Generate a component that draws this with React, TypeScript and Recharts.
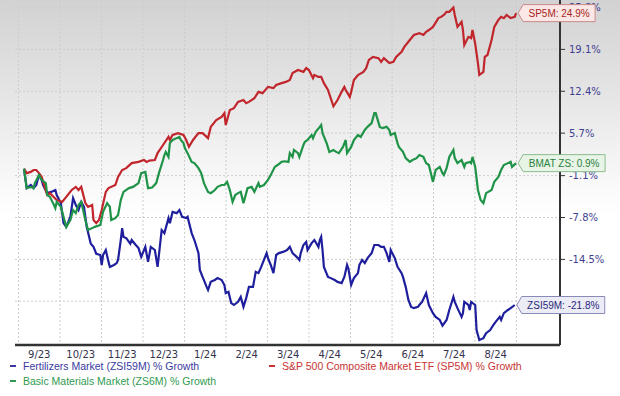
import { LineChart, Line, XAxis, YAxis, CartesianGrid } from 'recharts';

// x = days since 1 Sep 2023, y = % growth
const monthLabels = ['9/23', '10/23', '11/23', '12/23', '1/24', '2/24', '3/24', '4/24', '5/24', '6/24', '7/24', '8/24'];
const monthStartDays = [0, 30.4, 60.9, 91.3, 121.8, 152.2, 182.6, 213.1, 243.5, 274, 304.4, 334.8, 365.3];
const gridValues = [-21.2, -14.5, -7.8, -1.1, 5.7, 12.4, 19.1, 25.8];
// -21.2% sits under the ZSI59M tag in the original, so no label for it
const yTicks = [-14.5, -7.8, -1.1, 5.7, 12.4, 19.1, 25.8];

const fertilizers: [number, number][] = [
  [4, 0.0], [6, -3.1], [9, -2.6], [11, -3.1], [13, -2.6], [15, -1.0], [17, -1.8], [18, -2.6], [21, -3.9], [24, -3.7],
  [27, -3.4], [28, -4.2], [31, -5.5], [33, -8.7], [35, -9.3], [38, -7.7], [40, -4.7], [42, -5.8], [44, -6.6], [46, -5.3],
  [48, -6.1], [50, -9.3], [53, -12.0], [55, -12.5], [57, -13.6], [60, -13.8], [61, -15.4], [62, -13.8], [64, -13.0], [66, -14.9],
  [67, -15.7], [70, -15.4], [72, -15.1], [73, -14.6], [75, -11.4], [76, -9.5], [77, -10.9], [79, -11.1], [82, -12.0], [83, -11.4],
  [86, -12.2], [88, -12.7], [90, -14.1], [93, -12.5], [95, -14.9], [97, -12.5], [100, -13.0], [102, -15.7], [105, -9.8], [107, -10.3],
  [110, -7.9], [111, -8.7], [113, -6.9], [116, -7.1], [118, -6.6], [120, -7.7], [123, -7.9], [124, -7.7], [127, -10.3], [129, -11.4],
  [132, -13.5], [133, -16.2], [135, -17.3], [138, -18.9], [139, -19.4], [141, -18.1], [144, -17.8], [146, -17.5], [149, -17.8], [151, -18.6],
  [152, -19.9], [154, -19.7], [156, -21.5], [158, -21.8], [161, -21.3], [163, -20.5], [165, -22.1], [167, -20.7], [169, -18.9], [172, -18.9],
  [174, -16.5], [176, -16.7], [178, -15.7], [182, -13.5], [183, -14.3], [185, -15.4], [187, -16.7], [189, -13.8], [191, -13.5], [194, -13.3],
  [197, -13.0], [199, -12.5], [201, -13.5], [204, -14.1], [206, -14.6], [207, -13.5], [209, -12.2], [211, -11.7], [212, -13.0], [215, -11.9],
  [217, -11.4], [220, -12.5], [221, -11.4], [222, -10.9], [223, -13.0], [224, -15.7], [227, -17.3], [229, -17.5], [232, -17.8], [234, -18.1],
  [237, -18.3], [239, -17.3], [241, -15.4], [242, -16.0], [244, -18.6], [246, -17.5], [249, -16.7], [250, -15.4], [252, -14.6], [254, -15.1],
  [256, -14.3], [259, -13.5], [261, -12.2], [264, -12.2], [266, -12.5], [268, -12.5], [270, -13.5], [272, -14.9], [273, -13.0], [276, -14.3],
  [278, -15.7], [281, -16.7], [282, -17.3], [284, -18.9], [286, -21.0], [288, -22.1], [290, -22.3], [293, -22.1], [294, -21.8], [296, -21.3],
  [299, -19.9], [301, -21.8], [304, -23.1], [306, -23.7], [309, -24.2], [311, -25.1], [314, -24.2], [316, -22.6], [319, -20.5], [320, -21.3],
  [322, -22.3], [325, -23.7], [326, -23.1], [327, -21.3], [330, -21.8], [331, -22.6], [332, -21.3], [335, -21.8], [336, -25.8], [338, -27.4],
  [341, -27.1], [343, -26.3], [346, -25.8], [348, -25.1], [350, -24.5], [353, -23.7], [354, -24.2], [356, -23.1], [359, -22.6], [361, -22.3],
  [364, -21.8],
];

const sp500: [number, number][] = [
  [4, 0.0], [6, -0.7], [9, -0.5], [11, -0.2], [13, -0.2], [15, -0.7], [17, -1.3], [21, -4.2], [23, -3.9], [28, -5.0],
  [32, -5.3], [35, -4.5], [39, -3.4], [42, -2.9], [44, -3.4], [46, -2.9], [49, -5.5], [51, -6.1], [54, -5.8], [55, -8.2],
  [57, -8.7], [59, -8.2], [61, -6.6], [64, -3.7], [66, -3.1], [71, -2.6], [73, -1.3], [76, -0.2], [79, 0.1], [83, 0.9],
  [88, 1.1], [92, 1.4], [94, 1.1], [96, 1.3], [100, 1.4], [102, 2.5], [106, 3.8], [110, 5.1], [111, 4.6], [113, 5.4],
  [117, 5.7], [121, 5.4], [123, 4.6], [125, 3.5], [128, 4.6], [132, 5.7], [135, 5.7], [139, 4.9], [141, 6.7], [145, 7.8],
  [149, 8.3], [151, 8.9], [152, 7.0], [155, 9.4], [158, 9.7], [161, 10.7], [165, 11.0], [167, 10.5], [169, 10.7], [173, 11.3],
  [176, 12.3], [179, 12.1], [183, 13.1], [187, 12.9], [189, 13.4], [193, 13.7], [196, 13.9], [199, 14.2], [201, 15.3], [205, 15.8],
  [209, 15.5], [211, 16.1], [213, 15.8], [216, 14.5], [217, 15.0], [220, 14.7], [222, 14.7], [224, 13.7], [227, 12.6], [229, 11.3],
  [231, 10.0], [234, 11.0], [237, 12.3], [239, 13.1], [240, 12.6], [243, 11.5], [244, 12.3], [246, 14.2], [249, 15.0], [253, 15.5],
  [255, 16.1], [257, 17.4], [260, 17.9], [264, 17.7], [266, 17.1], [268, 17.7], [272, 16.9], [275, 17.1], [277, 17.9], [281, 18.7],
  [283, 19.5], [287, 20.6], [290, 21.4], [294, 21.7], [297, 21.4], [299, 21.9], [301, 22.2], [304, 22.7], [308, 24.1], [310, 24.3],
  [312, 24.6], [314, 25.1], [316, 25.1], [319, 25.8], [320, 24.6], [322, 22.7], [325, 23.5], [326, 22.2], [327, 19.8], [330, 21.1],
  [332, 20.9], [333, 22.2], [335, 20.0], [337, 16.9], [338, 15.0], [341, 15.5], [342, 17.9], [344, 18.2], [347, 20.6], [349, 22.7],
  [352, 23.8], [354, 24.3], [356, 24.1], [358, 24.6], [361, 24.1], [364, 24.3], [365, 24.9],
];

const basicMaterials: [number, number][] = [
  [4, 0.0], [6, -3.1], [9, -2.9], [11, -3.1], [12, -2.3], [15, -1.0], [17, -1.8], [20, -2.3], [21, -4.2], [23, -4.5],
  [26, -5.8], [27, -6.3], [28, -5.3], [31, -6.1], [33, -7.7], [35, -9.3], [38, -8.2], [40, -6.6], [42, -7.1], [44, -5.8],
  [46, -5.3], [49, -8.2], [51, -9.8], [54, -9.5], [56, -9.3], [60, -9.0], [62, -6.9], [65, -5.5], [67, -6.1], [68, -8.2],
  [71, -7.9], [73, -7.4], [75, -5.0], [77, -3.7], [81, -3.1], [84, -2.9], [88, -2.3], [90, -0.7], [93, -0.5], [95, -3.1],
  [98, -3.0], [101, -2.3], [103, -0.7], [106, 1.4], [107, 2.2], [108, 2.7], [110, 1.9], [111, 4.1], [113, 4.6], [116, 4.9],
  [118, 5.1], [119, 4.6], [121, 4.1], [122, 3.3], [124, 2.5], [127, 1.1], [129, 0.9], [132, 0.1], [134, -0.7], [136, -2.3],
  [139, -3.7], [141, -3.9], [144, -3.4], [146, -2.9], [149, -2.6], [151, -2.6], [153, -2.1], [155, -3.4], [157, -5.3], [159, -4.2],
  [161, -3.9], [163, -3.7], [165, -5.5], [166, -4.7], [168, -3.1], [171, -2.9], [173, -3.7], [176, -2.3], [177, -2.9], [180, -2.6],
  [183, -1.8], [185, -1.0], [188, 0.3], [190, 0.6], [193, 1.1], [195, 1.2], [198, 1.1], [199, 2.5], [201, 1.9], [202, 3.0],
  [205, 2.5], [206, 1.9], [209, 3.8], [210, 4.3], [212, 4.6], [215, 5.4], [216, 4.9], [218, 5.9], [221, 6.7], [222, 7.0],
  [223, 5.7], [226, 4.1], [228, 2.7], [231, 3.0], [233, 2.7], [235, 2.5], [238, 3.5], [240, 4.6], [241, 2.5], [244, 3.5],
  [246, 4.6], [249, 5.4], [251, 5.1], [254, 6.2], [256, 6.7], [259, 7.3], [261, 8.9], [262, 8.9], [265, 6.7], [267, 6.5],
  [270, 6.7], [272, 6.2], [273, 5.4], [276, 5.7], [278, 4.1], [279, 3.5], [282, 2.7], [284, 1.7], [287, 1.1], [289, 1.4],
  [292, 1.7], [294, 2.2], [297, 1.9], [299, 0.9], [301, 0.6], [304, -2.1], [306, -0.2], [309, 0.3], [311, -0.7], [312, -1.0],
  [314, 0.1], [316, 1.9], [319, 3.0], [320, 1.7], [322, 0.9], [325, 1.4], [327, 0.3], [328, 0.9], [331, 1.1], [332, 0.9],
  [333, 1.9], [335, 0.3], [337, -3.4], [339, -5.0], [341, -5.5], [343, -3.9], [347, -3.4], [349, -2.1], [352, -1.3], [354, -0.2],
  [356, 0.6], [359, 0.9], [361, 1.1], [362, 0.3], [365, 0.9],
];

const toPoints = (rows: [number, number][]) => rows.map(([day, pct]) => ({ day, pct }));

const labelDays = monthLabels.map((_, i) => (monthStartDays[i] + monthStartDays[i + 1]) / 2);

function endTag(rows: [number, number][], text: string, width: number, fill: string, stroke: string, color: string) {
  const last = rows.length - 1;
  return (props: any) => {
    const { x, y, index } = props;
    if (index !== last) return null;
    const tip = x + 2;
    const left = tip + 5;
    const h = 17;
    const d = `M${tip},${y} L${left},${y - h / 2} L${left + width},${y - h / 2} L${left + width},${y + h / 2} L${left},${y + h / 2} Z`;
    return (
      <g key="end-tag">
        <path d={d} fill={fill} stroke={stroke} strokeWidth={1} />
        <text
          x={left + width / 2}
          y={y + 3.5}
          textAnchor="middle"
          fontSize={10}
          fontFamily="Liberation Sans, Arial, sans-serif"
          fill={color}
        >
          {text}
        </text>
      </g>
    );
  };
}

const legendFont = { fontFamily: 'Liberation Sans, Arial, sans-serif', fontSize: 10.5 };

function LegendItem({ left, top, color, text }: { left: number; top: number; color: string; text: string }) {
  return (
    <div style={{ position: 'absolute', left, top, display: 'flex', alignItems: 'center', whiteSpace: 'nowrap' }}>
      <span style={{ display: 'inline-block', width: 6, height: 2, background: color, marginRight: 7 }} />
      <span style={{ ...legendFont, color }}>{text}</span>
    </div>
  );
}

export default function App() {
  return (
    <div
      style={{
        position: 'absolute',
        left: 0,
        top: 0,
        width: 620,
        height: 396,
        background: 'linear-gradient(to bottom, #d2d2d2 0px, #e2e2e2 80px, #f4f4f4 160px, #ffffff 215px)',
      }}
    >
      <LineChart width={620} height={396} margin={{ top: 0, right: 0, bottom: 33, left: 15 }}>
        <CartesianGrid
          stroke="#cdcdcd"
          strokeDasharray="2 2"
          horizontalValues={gridValues}
          verticalValues={monthStartDays}
        />
        <XAxis
          type="number"
          dataKey="day"
          domain={[-2.6, 397.2]}
          allowDataOverflow
          ticks={labelDays}
          tickFormatter={(v: number) => monthLabels[labelDays.indexOf(v)] ?? ''}
          interval={0}
          height={18}
          tickLine={false}
          tickSize={0}
          tickMargin={6}
          axisLine={{ stroke: '#333', strokeWidth: 2.5 }}
          tick={{ fill: '#33334d', fontSize: 10, fontFamily: 'DejaVu Sans, sans-serif' }}
        />
        <YAxis
          orientation="right"
          type="number"
          domain={[-28.2, 27.0]}
          allowDataOverflow
          ticks={yTicks}
          interval={0}
          width={60}
          tickSize={5}
          tickMargin={4}
          tickFormatter={(v: number) => `${v.toFixed(1)}%`}
          axisLine={{ stroke: '#333', strokeWidth: 2 }}
          tickLine={{ stroke: '#333' }}
          tick={{ fill: '#3f3f92', fontSize: 10, fontFamily: 'DejaVu Sans, sans-serif' }}
        />
        <Line
          data={toPoints(fertilizers)}
          dataKey="pct"
          stroke="#1f1f9e"
          strokeWidth={2.2}
          dot={false}
          activeDot={false}
          isAnimationActive={false}
          label={endTag(fertilizers, 'ZSI59M: -21.8%', 83, '#ececf6', '#8a8ab8', '#28287a')}
        />
        <Line
          data={toPoints(sp500)}
          dataKey="pct"
          stroke="#c0262c"
          strokeWidth={2.2}
          dot={false}
          activeDot={false}
          isAnimationActive={false}
          label={endTag(sp500, 'SP5M: 24.9%', 72, '#fbe8e6', '#c98a8a', '#a82424')}
        />
        <Line
          data={toPoints(basicMaterials)}
          dataKey="pct"
          stroke="#1f9347"
          strokeWidth={2.2}
          dot={false}
          activeDot={false}
          isAnimationActive={false}
          label={endTag(basicMaterials, 'BMAT ZS: 0.9%', 82, '#e8f4e6', '#8cbc8c', '#2a8040')}
        />
      </LineChart>
      <LegendItem left={10} top={360} color="#3a3aa0" text="Fertilizers Market (ZSI59M) % Growth" />
      <LegendItem left={269} top={360} color="#c83434" text="S&P 500 Composite Market ETF (SP5M) % Growth" />
      <LegendItem left={10} top={375} color="#2f9a50" text="Basic Materials Market (ZS6M) % Growth" />
    </div>
  );
}
